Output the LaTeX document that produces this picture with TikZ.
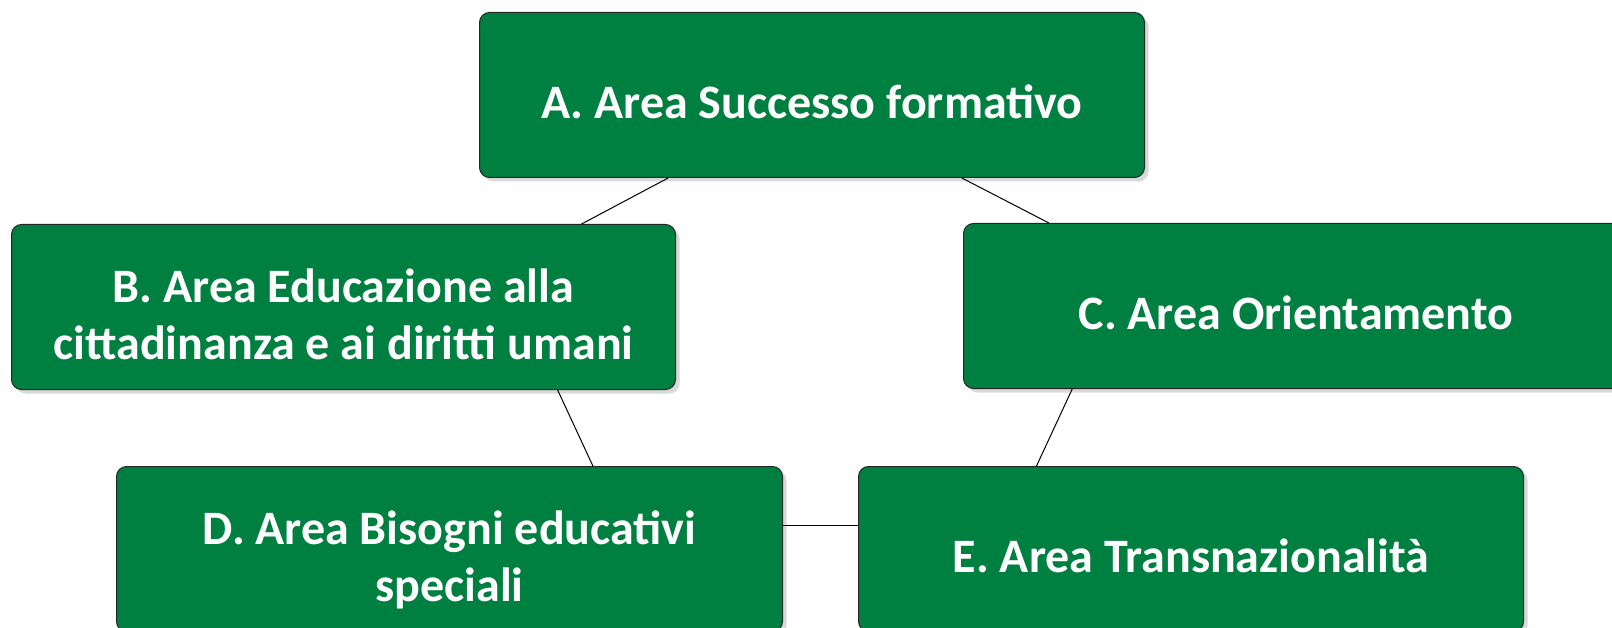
\documentclass[tikz,border=0pt]{standalone}
\usepackage{fontspec}
\setmainfont{Carlito}
\usetikzlibrary{shadows,calc}
\definecolor{boxgreen}{RGB}{0,128,64}
\newcommand{\boxtext}[1]{\raisebox{0pt}[\dimexpr\height+25pt\relax][\depth]{\begin{tabular}{@{}c@{}}#1\end{tabular}}}
\tikzset{
  areabox/.style={draw=black!85, line width=1pt, fill=boxgreen, rounded corners=10pt,
    minimum width=665pt, minimum height=165pt, anchor=north west, inner sep=0pt,
    text=white, font=\fontsize{48}{57}\selectfont\bfseries,
    drop shadow={opacity=0.3, shadow xshift=4pt, shadow yshift=-4pt}},
  link/.style={draw=black, line width=1pt}
}
\begin{document}
\begin{tikzpicture}[x=1pt,y=-1pt]
\useasboundingbox (0,0) rectangle (1612,628);
\node[areabox] (A) at (479,12) {\boxtext{A. Area Successo formativo}};
\node[areabox, minimum width=664pt] (B) at (11,224) {\boxtext{B. Area Educazione alla\\cittadinanza e ai diritti umani}};
\node[areabox] (C) at (963,223) {\boxtext{C. Area Orientamento}};
\node[areabox, minimum width=666pt] (D) at (116,466) {\boxtext{D. Area Bisogni educativi\\speciali}};
\node[areabox] (E) at (858,466) {\boxtext{E. Area Transnazionalità}};
\draw[link] ($(A.south west)!0.284!(A.south east)$) coordinate (ab1) -- ($(B.north west)!0.858!(B.north east)$) coordinate (ab2);
\draw[link] ($(A.south west)!0.725!(A.south east)$) coordinate (ac1) -- ($(C.north west)!0.129!(C.north east)$) coordinate (ac2);
\draw[link] ($(B.south west)!0.822!(B.south east)$) coordinate (bd1) -- ($(D.north west)!0.715!(D.north east)$) coordinate (bd2);
\draw[link] ($(C.south west)!0.164!(C.south east)$) coordinate (ce1) -- ($(E.north west)!0.268!(E.north east)$) coordinate (ce2);
\draw[link] ($(D.north east)!0.358!(D.south east)$) coordinate (de1) -- ($(E.north west)!0.358!(E.south west)$) coordinate (de2);
\end{tikzpicture}
\end{document}
